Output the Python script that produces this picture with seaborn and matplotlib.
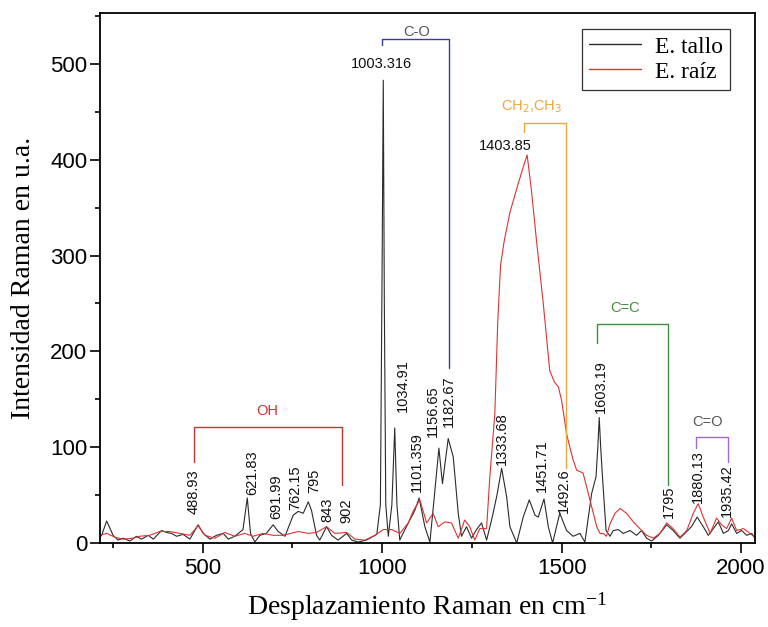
import numpy as np
import pandas as pd
import seaborn as sns
import matplotlib
matplotlib.use("Agg")
import matplotlib.pyplot as plt
from matplotlib.ticker import MultipleLocator

# E. tallo (black) spectrum
tallo_x = [213, 218, 232, 250, 264, 278, 297, 315, 329, 348, 362, 385, 399, 413, 427, 445, 464,
           487, 501, 520, 538, 557, 571, 589, 612, 624, 633, 645, 659, 677, 696, 710, 729,
           752, 766, 780, 794, 803, 817, 826, 845, 859, 877, 901, 915, 933, 956, 975, 985,
           995, 1000, 1003, 1006, 1010, 1017, 1027, 1035, 1041, 1049, 1058, 1077, 1091, 1103,
           1119, 1133, 1147, 1158, 1168, 1184, 1198, 1212, 1221, 1235, 1249, 1263, 1277, 1291,
           1305, 1320, 1333, 1347, 1356, 1375, 1393, 1410, 1426, 1435, 1451, 1463, 1475, 1495,
           1514, 1532, 1551, 1565, 1584, 1596, 1601, 1605, 1609, 1614, 1624, 1635, 1644, 1658,
           1672, 1691, 1709, 1723, 1737, 1751, 1770, 1793, 1811, 1830, 1849, 1862, 1878, 1895,
           1909, 1927, 1937, 1951, 1965, 1974, 1988, 2002, 2016, 2030, 2039]
tallo_y = [6, 8, 23, 8, 3, 5, 2, 7, 4, 8, 4, 13, 11, 10, 7, 9, 4,
           19, 10, 4, 8, 10, 4, 7, 14, 47, 10, 1, 8, 10, 19, 12, 7,
           29, 33, 31, 43, 34, 8, 3, 17, 8, 3, 10, 3, 1, 3, 7, 9,
           40, 300, 483, 250, 40, 7, 40, 120, 40, 3, 10, 24, 34, 47,
           17, 1, 55, 99, 62, 109, 90, 31, 7, 17, 5, 14, 21, 3,
           24, 50, 78, 48, 17, 0, 27, 45, 29, 27, 46, 17, 0, 31,
           13, 7, 10, 1, 52, 69, 100, 131, 100, 69, 13, 7, 13, 14,
           10, 13, 8, 13, 5, 2, 8, 19, 13, 5, 12, 17, 27, 17,
           8, 17, 22, 10, 13, 20, 10, 13, 8, 10, 5]

# E. raiz (red) spectrum
raiz_x = [213, 232, 255, 278, 306, 324, 352, 380, 408, 436, 464, 487, 506, 534, 561, 589, 617,
          640, 668, 696, 724, 766, 794, 817, 845, 868, 901, 924, 952, 980, 1003, 1026, 1049,
          1073, 1086, 1105, 1124, 1142, 1156, 1175, 1193, 1212, 1230, 1244, 1258, 1272, 1291,
          1300, 1314, 1322, 1330, 1340, 1356, 1379, 1398, 1404, 1416, 1430, 1449, 1467, 1480,
          1491, 1500, 1514, 1523, 1532, 1542, 1560, 1579, 1598, 1607, 1616, 1625, 1635, 1649,
          1663, 1681, 1700, 1718, 1737, 1756, 1774, 1793, 1811, 1830, 1849, 1867, 1881, 1895,
          1914, 1932, 1946, 1960, 1974, 1988, 2007, 2025, 2039]
raiz_y = [8, 10, 6, 4, 5, 7, 8, 12, 12, 10, 8, 18, 8, 5, 11, 7, 10,
          7, 10, 8, 8, 12, 10, 11, 17, 10, 11, 4, 3, 8, 14, 14, 10,
          21, 33, 45, 21, 31, 17, 22, 21, 5, 24, 17, 3, 15, 15,
          69, 135, 230, 290, 315, 345, 375, 398, 405, 368, 316, 250, 180, 168,
          163, 149, 114, 100, 87, 76, 73, 45, 17, 10, 10, 7, 20, 31,
          36, 31, 22, 15, 8, 5, 10, 21, 15, 6, 13, 31, 41, 27,
          10, 26, 19, 15, 26, 13, 15, 10, 6]

# peak labels: text, x, y (bottom of vertical text)
peak_labels = [("488.93", 475, 30), ("621.83", 637, 50), ("691.99", 706, 25),
               ("762.15", 757, 34), ("795", 810, 52), ("843", 846, 22), ("902", 899, 21),
               ("1034.91", 1058, 137), ("1101.359", 1097, 53), ("1156.65", 1141, 111),
               ("1182.67", 1186, 121), ("1333.68", 1334, 81), ("1451.71", 1445, 53),
               ("1492.6", 1507, 31), ("1603.19", 1610, 136), ("1795", 1799, 26),
               ("1880.13", 1880, 42), ("1935.42", 1961, 27)]

# group brackets: label, x_left, x_right, y_top, y_left_end, y_right_end, label pos, colours
groups = [("OH", 475, 888, 121, 85, 60, (679, 138), "#cc3333", "#cc3333"),
          ("C-O", 999, 1186, 526, 520, 183, (1097, 533), "#3b3b9c", "#555555"),
          ("CH$_2$,CH$_3$", 1395, 1512, 438, 429, 78, (1417, 455), "#f0a640", "#f0a640"),
          ("C=C", 1599, 1796, 229, 209, 61, (1677, 245), "#3f8f3f", "#3f8f3f"),
          ("C=O", 1874, 1963, 111, 99, 85, (1908, 126), "#a066d8", "#555555")]

df = pd.concat([
    pd.DataFrame({"x": tallo_x, "y": tallo_y, "serie": "E. tallo"}),
    pd.DataFrame({"x": raiz_x, "y": raiz_y, "serie": "E. raíz"}),
])

sns.set_style("white")
plt.rcParams["font.family"] = ["Liberation Sans", "DejaVu Sans"]
plt.rcParams["mathtext.fontset"] = "custom"
plt.rcParams["mathtext.rm"] = "Liberation Serif"
plt.rcParams["mathtext.default"] = "rm"

fig = plt.figure(figsize=(7.68, 6.27), dpi=100)
ax = fig.add_axes([0.130, 0.134, 0.853, 0.845])

sns.lineplot(data=df, x="x", y="y", hue="serie", estimator=None, sort=True,
             palette={"E. tallo": "#2b2b2b", "E. raíz": "#dd3333"},
             linewidth=0.8, ax=ax)

for txt, x, y in peak_labels:
    ax.text(x, y, txt, rotation=90, ha="center", va="bottom", fontsize=10.5, color="#111111")

ax.text(999, 500, "1003.316", ha="center", va="center", fontsize=10.5, color="#111111")
ax.text(1342, 414, "1403.85", ha="center", va="center", fontsize=10.5, color="#111111")

for name, xl, xr, yt, yl, yr, (lx, ly), lc, tc in groups:
    ax.plot([xl, xl, xr, xr], [yl, yt, yt, yr], color=lc, linewidth=1.0)
    ax.text(lx, ly, name, ha="center", va="center", fontsize=10.5, color=tc,
            math_fontfamily="dejavusans")

ax.set_xlim(213, 2039)
ax.set_ylim(0, 553)
ax.xaxis.set_major_locator(MultipleLocator(500))
ax.xaxis.set_minor_locator(MultipleLocator(250))
ax.yaxis.set_major_locator(MultipleLocator(100))
ax.yaxis.set_minor_locator(MultipleLocator(50))
ax.tick_params(which="major", direction="out", length=7, width=1.2, labelsize=16,
               bottom=True, left=True, pad=2, color="black", labelcolor="black")
ax.tick_params(which="minor", direction="out", length=3.5, width=1.2, bottom=True, left=True,
               color="black")
ax.tick_params(axis="x", pad=4)
for s in ax.spines.values():
    s.set_linewidth(1.3)
    s.set_color("black")

ax.set_xlabel("Desplazamiento Raman en cm$^{-1}$", family="Liberation Serif", fontsize=20,
              labelpad=8, color="black")
ax.set_ylabel("Intensidad Raman en u.a.", family="Liberation Serif", fontsize=20,
              labelpad=10, color="black")

leg = ax.legend(loc="upper right", bbox_to_anchor=(0.962, 0.970), borderaxespad=0,
                frameon=True, fancybox=False,
                prop={"family": "Liberation Serif", "size": 17}, handlelength=2.2,
                borderpad=0.3, labelspacing=0.15, handletextpad=0.6)
leg.get_frame().set_edgecolor("black")
leg.get_frame().set_linewidth(0.9)
for text in leg.get_texts():
    text.set_color("black")
for line in leg.get_lines():
    line.set_linewidth(1.0)

fig.savefig("out.png", dpi=100)
